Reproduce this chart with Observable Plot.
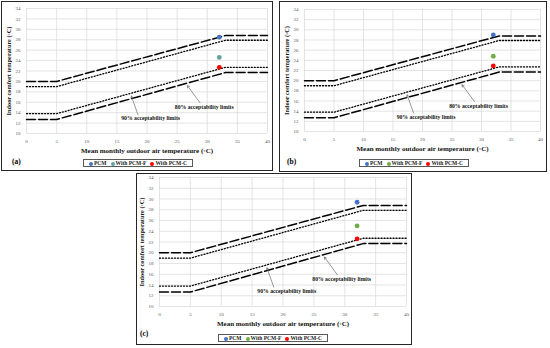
<!DOCTYPE html>
<html><head><meta charset="utf-8">
<script src="https://cdn.jsdelivr.net/npm/d3@7"></script>
<script src="https://cdn.jsdelivr.net/npm/@observablehq/plot@0.6"></script>
<style>
body{margin:0;background:#fff;}
#root{position:relative;width:550px;height:348px;background:#fff;overflow:hidden;font-family:"Liberation Serif","Times New Roman",serif;}
.panel{position:absolute;border:1.5px solid #262626;box-sizing:border-box;}
.abs{position:absolute;}
.tag{position:absolute;font-weight:bold;font-size:7.5px;color:#000;}
.legend{position:absolute;border:0.8px solid #595959;box-sizing:border-box;display:flex;align-items:center;justify-content:center;gap:4px;font-weight:bold;font-size:5.5px;color:#222;height:8px;white-space:nowrap;}
.legend span.dot{display:inline-block;width:4px;height:4px;border-radius:50%;margin-right:1px;vertical-align:middle;}
</style></head>
<body><div id="root"></div>
<script>
// ---- data ----
const outdoorBreaks = [0, 5, 33, 40];
const upper80 = [20, 20, 28.8, 28.8];
const upper90 = [19, 19, 27.9, 27.9];
const lower90 = [13.8, 13.8, 22.7, 22.7];
const lower80 = [12.7, 12.7, 21.7, 21.7];
const series = ["PCM", "With PCM-F", "With PCM-C"];
const pointOutdoor = 32;
const valuesA = [28.5, 24.6, 22.7];
const valuesB = [29.0, 24.8, 22.9];
const valuesC = [29.4, 25.0, 22.6];
const colorsA = ["#4472C4", "#62A39F", "#FF0000"];
const colorsBC = ["#4472C4", "#70AD47", "#FF0000"];
const xTicks = [0, 5, 10, 15, 20, 25, 30, 35, 40];
const yTicks = [10, 12, 14, 16, 18, 20, 22, 24, 26, 28, 30, 32, 34];
const xTitle = "Mean monthly outdoor air temperature (◦C)";
const yTitle = "Indoor comfort temperature (◦C)";
const label80 = "80% acceptability limits";
const label90 = "90% acceptability limits";

const root = document.getElementById("root");
const FONT = "Liberation Serif";

function lineData(ys){ return outdoorBreaks.map((x,i)=>({x, y: ys[i]})); }

function makePlot(values, colors, m){
  const pts = series.map((s,i)=>({s, x: pointOutdoor, y: values[i], c: colors[i]}));
  return Plot.plot({
    width: m.w, height: m.h,
    marginLeft: m.l, marginRight: m.r, marginTop: m.t, marginBottom: m.b,
    style: {fontFamily: FONT, background: "transparent", overflow: "visible"},
    x: {domain: [0, 40]},
    y: {domain: [10, 34]},
    marks: [
      Plot.gridY(yTicks, {stroke: "#d9d9d9", strokeOpacity: 1, strokeWidth: 0.7}),
      Plot.gridX(xTicks, {stroke: "#d9d9d9", strokeOpacity: 1, strokeWidth: 0.7}),
      Plot.axisX(xTicks, {tickSize: 0, tickPadding: 6, fontSize: 5, fill: "#595959", label: null}),
      Plot.axisY(yTicks, {tickSize: 0, tickPadding: 6, fontSize: 5, fill: "#595959", label: null}),
      Plot.line(lineData(upper80), {x: "x", y: "y", stroke: "#000", strokeWidth: 1.5, strokeDasharray: "9,3"}),
      Plot.line(lineData(lower80), {x: "x", y: "y", stroke: "#000", strokeWidth: 1.5, strokeDasharray: "9,3"}),
      Plot.line(lineData(upper90), {x: "x", y: "y", stroke: "#000", strokeWidth: 1.3, strokeDasharray: "1.1,1.9"}),
      Plot.line(lineData(lower90), {x: "x", y: "y", stroke: "#000", strokeWidth: 1.3, strokeDasharray: "1.1,1.9"}),
      Plot.arrow([{x1: 28.8, y1: 15.9, x2: 26.7, y2: 19.2}], {x1: "x1", y1: "y1", x2: "x2", y2: "y2", stroke: "#6b6b6b", strokeWidth: 0.7, headLength: 5}),
      Plot.arrow([{x1: 18.5, y1: 13.6, x2: 17.4, y2: 17.2}], {x1: "x1", y1: "y1", x2: "x2", y2: "y2", stroke: "#6b6b6b", strokeWidth: 0.7, headLength: 5}),
      Plot.text([{x: 29.5, y: 15.0, t: label80}], {x: "x", y: "y", text: "t", fontSize: 5.7, fontWeight: "bold", fill: "#111"}),
      Plot.text([{x: 20.6, y: 12.9, t: label90}], {x: "x", y: "y", text: "t", fontSize: 5.7, fontWeight: "bold", fill: "#111"}),
      Plot.dot(pts, {x: "x", y: "y", fill: "c", r: 2.4}),
      Plot.text([xTitle], {frameAnchor: "bottom", dy: 19, fontSize: 7, fontWeight: "bold", fill: "#111"}),
      Plot.text([yTitle], {frameAnchor: "left", textAnchor: "middle", dx: -18, rotate: -90, fontSize: 6.3, fontWeight: "bold", fill: "#111"})
    ]
  });
}

function addPanel(box, svgPos, values, colors, tag, tagPos, legPos){
  const p = document.createElement("div");
  p.className = "panel";
  Object.assign(p.style, {left: box[0]+"px", top: box[1]+"px", width: (box[2]-box[0])+"px", height: (box[3]-box[1])+"px"});
  root.appendChild(p);
  const svg = makePlot(values, colors, svgPos);
  const wrap = document.createElement("div");
  wrap.className = "abs";
  wrap.style.left = svgPos.x + "px"; wrap.style.top = svgPos.y + "px";
  wrap.appendChild(svg);
  root.appendChild(wrap);
  const t = document.createElement("div");
  t.className = "tag"; t.textContent = tag;
  t.style.left = tagPos[0] + "px"; t.style.top = tagPos[1] + "px";
  root.appendChild(t);
  const lg = document.createElement("div");
  lg.className = "legend";
  lg.style.left = legPos[0] + "px"; lg.style.top = legPos[1] + "px"; lg.style.width = legPos[2] + "px";
  series.forEach((s,i)=>{
    const item = document.createElement("span");
    const d = document.createElement("span"); d.className = "dot"; d.style.background = colors[i];
    item.appendChild(d); item.appendChild(document.createTextNode(s));
    lg.appendChild(item);
  });
  root.appendChild(lg);
}

addPanel([1, 1, 273, 171], {x: 0, y: 0, w: 272, h: 158, l: 26, r: 5, t: 8, b: 25}, valuesA, colorsA, "(a)", [12, 157], [83, 159, 110]);
addPanel([279, 1, 547, 172], {x: 275, y: 0, w: 273, h: 158, l: 29, r: 8, t: 9, b: 27}, valuesB, colorsBC, "(b)", [287, 157], [359, 159, 110]);
addPanel([136, 173, 412, 345], {x: 133, y: 170, w: 280, h: 160, l: 26, r: 7, t: 7, b: 24}, valuesC, colorsBC, "(c)", [140, 329], [218, 334, 110]);
</script></body></html>
